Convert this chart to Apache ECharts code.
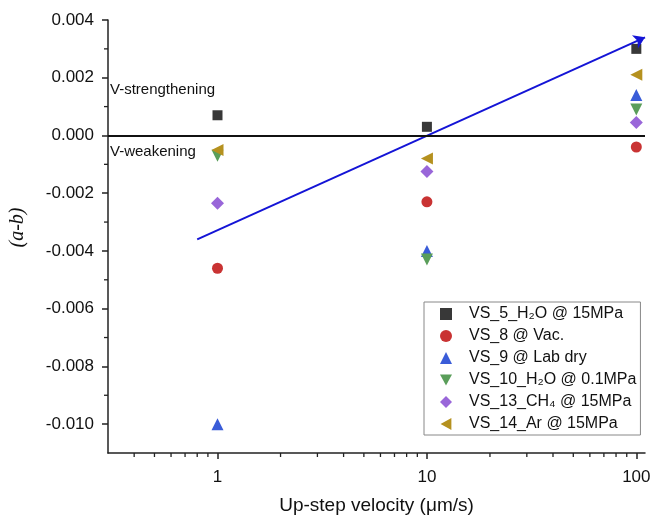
<!DOCTYPE html>
<html>
<head>
<meta charset="utf-8">
<script src="https://cdn.jsdelivr.net/npm/echarts@6/dist/echarts.min.js"></script>
<style>
  html, body { margin: 0; padding: 0; background: #fff; }
  #chart { width: 654px; height: 525px; }
</style>
</head>
<body>
<div id="chart"></div>
<script>
// 速度 (μm/s)
const velocity = [1, 10, 100]
// 各组 (a-b)
const vs5 = [0.0007, 0.0003, 0.0030]
const vs8 = [-0.0046, -0.0023, -0.0004]
const vs9 = [-0.0100, -0.0040, 0.0014]
const vs10 = [-0.0007, -0.0043, 0.0009]
const vs13 = [-0.00235, -0.00125, 0.00045]
const vs14 = [-0.0005, -0.0008, 0.0021]
// 趋势线 起点/终点
const trendX = [0.8, 110]
const trendY = [-0.0036, 0.0034]
// 坐标范围及刻度
const xMin = 0.3, xMax = 110
const yMin = -0.011, yMax = 0.004
const xMinorTicks = [0.4, 0.5, 0.6, 0.7, 0.8, 0.9, 2, 3, 4, 5, 6, 7, 8, 9, 20, 30, 40, 50, 60, 70, 80, 90]
const yMinorTicks = [0.003, 0.001, -0.001, -0.003, -0.005, -0.007, -0.009]

// 图例里的下三角、左三角
const downTri = 'path://M0,0L10,0L5,9Z'
const leftTri = 'path://M9,0L9,10L0,5Z'

const seriesInfo = [
  { name: 'VS_5_H₂O @ 15MPa', data: vs5, symbol: 'rect', icon: 'rect', size: 10, rotate: 0, color: '#383838' },
  { name: 'VS_8 @ Vac.', data: vs8, symbol: 'circle', icon: 'circle', size: 11, rotate: 0, color: '#c93333' },
  { name: 'VS_9 @ Lab dry', data: vs9, symbol: 'triangle', icon: 'triangle', size: 12, rotate: 0, color: '#3a5cd8' },
  { name: 'VS_10_H₂O @ 0.1MPa', data: vs10, symbol: 'triangle', icon: downTri, size: 12, rotate: 180, color: '#5a9e5a' },
  { name: 'VS_13_CH₄ @ 15MPa', data: vs13, symbol: 'diamond', icon: 'diamond', size: 13, rotate: 0, color: '#9966d9' },
  { name: 'VS_14_Ar @ 15MPa', data: vs14, symbol: 'triangle', icon: leftTri, size: 12, rotate: 90, color: '#b5911f' }
]

const chart = echarts.init(document.getElementById('chart'))
const font = 'Liberation Sans, Arial, sans-serif'

const series = seriesInfo.map(s => ({
  name: s.name,
  type: 'scatter',
  symbol: s.symbol,
  symbolSize: s.size,
  symbolRotate: s.rotate,
  itemStyle: { color: s.color, opacity: 1 },
  data: velocity.map((v, i) => [v, s.data[i]])
}))

// 零线放在第一个系列上
series[0].markLine = {
  silent: true,
  symbol: 'none',
  label: { show: false },
  lineStyle: { color: '#111', width: 2, type: 'solid' },
  data: [{ yAxis: 0 }]
}

series.push({
  type: 'lines',
  coordinateSystem: 'cartesian2d',
  symbol: ['none', 'arrow'],
  symbolSize: 11,
  lineStyle: { color: '#1414d6', width: 2, opacity: 1 },
  data: [{ coords: [[trendX[0], trendY[0]], [trendX[1], trendY[1]]] }],
  z: 3
})

// 次刻度
series.push({
  type: 'custom',
  silent: true,
  clip: false,
  data: xMinorTicks.map(v => [v, yMin]),
  renderItem: (params, api) => {
    const p = api.coord([api.value(0), yMin])
    return { type: 'line', shape: { x1: p[0], y1: p[1], x2: p[0], y2: p[1] + 4 }, style: { stroke: '#222', lineWidth: 1.3 } }
  }
})
series.push({
  type: 'custom',
  silent: true,
  clip: false,
  data: yMinorTicks.map(v => [xMin, v]),
  renderItem: (params, api) => {
    const p = api.coord([xMin, api.value(1)])
    return { type: 'line', shape: { x1: p[0] - 4, y1: p[1], x2: p[0], y2: p[1] }, style: { stroke: '#222', lineWidth: 1.3 } }
  }
})

const option = {
  animation: false,
  backgroundColor: '#fff',
  grid: { left: 107, right: 9, top: 20, bottom: 72 },
  xAxis: {
    type: 'log',
    min: xMin,
    max: xMax,
    logBase: 10,
    name: 'Up-step velocity (μm/s)',
    nameLocation: 'middle',
    nameGap: 43,
    nameTextStyle: { fontFamily: font, fontSize: 19, color: '#111' },
    axisLine: { onZero: false, lineStyle: { color: '#222', width: 1.5 } },
    axisTick: { show: true, inside: false, length: 6, lineStyle: { color: '#222', width: 1.5 } },
    axisLabel: { fontFamily: font, fontSize: 17, color: '#111', margin: 16, showMinLabel: false, showMaxLabel: false },
    splitLine: { show: false }
  },
  yAxis: {
    type: 'value',
    min: yMin,
    max: yMax,
    splitNumber: 7,
    name: '(a-b)',
    nameLocation: 'middle',
    nameGap: 80,
    nameTextStyle: { fontFamily: 'Liberation Serif, Times New Roman, serif', fontStyle: 'italic', fontSize: 20, color: '#111', padding: [0, 0, 0, 18] },
    axisLine: { onZero: false, lineStyle: { color: '#222', width: 1.5 } },
    axisTick: { show: true, inside: false, length: 6, lineStyle: { color: '#222', width: 1.5 } },
    axisLabel: {
      fontFamily: font, fontSize: 17, color: '#111', margin: 14, showMinLabel: false,
      formatter: v => v.toFixed(3)
    },
    splitLine: { show: false }
  },
  legend: {
    orient: 'vertical',
    left: 424,
    top: 302,
    data: seriesInfo.map(s => ({ name: s.name, icon: s.icon })),
    itemWidth: 12,
    itemHeight: 12,
    itemGap: 6,
    padding: [4, 4, 3, 16],
    borderColor: '#888',
    borderWidth: 1,
    textStyle: { fontFamily: font, fontSize: 16, lineHeight: 16, color: '#111', padding: [0, 0, 0, 12] }
  },
  graphic: [
    { type: 'text', left: 110, top: 82, style: { text: 'V-strengthening', font: '15px Liberation Sans, Arial, sans-serif', fill: '#111' } },
    { type: 'text', left: 110, top: 144, style: { text: 'V-weakening', font: '15px Liberation Sans, Arial, sans-serif', fill: '#111' } }
  ],
  series: series
}

chart.setOption(option)
</script>
</body>
</html>
